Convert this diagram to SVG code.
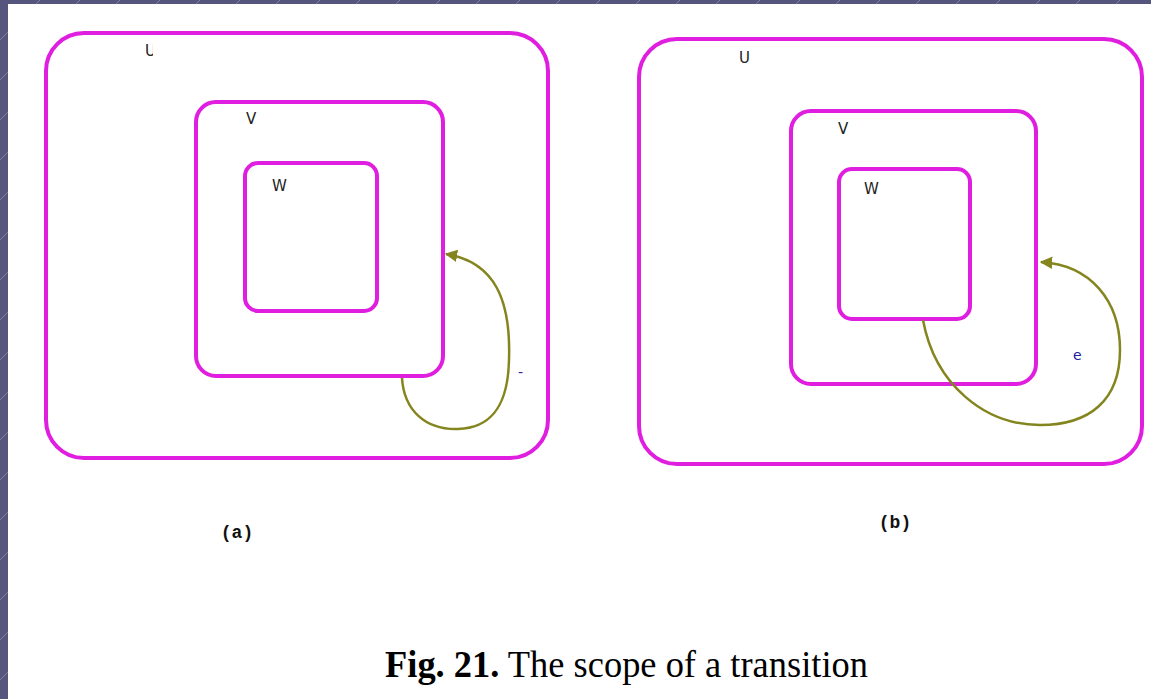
<svg xmlns="http://www.w3.org/2000/svg" width="1151" height="699" viewBox="0 0 1151 699">
  <defs>
    <pattern id="stripes" x="0" y="0" width="40" height="40" patternUnits="userSpaceOnUse">
      <path d="M-2,42 L42,-2" stroke="#8a8ab0" stroke-width="0.8" fill="none"/>
    </pattern>
    <marker id="arrow" viewBox="0 0 10 10" refX="9" refY="5" markerWidth="5" markerHeight="5" orient="auto" markerUnits="strokeWidth">
      <path d="M0,0 L10,5 L0,10 Z" fill="#85851f"/>
    </marker>
    <clipPath id="clipU">
      <rect x="140" y="35" width="13" height="25"/>
    </clipPath>
  </defs>
  <style>
    .state { fill: none; stroke: #e01ee0; stroke-width: 4; }
    .edge { fill: none; stroke: #85851f; stroke-width: 2.5; marker-end: url(#arrow); }
    .lbl { font-family: "DejaVu Sans", "Liberation Sans", sans-serif; font-size: 15px; fill: #222; }
    .ev { font-family: "DejaVu Sans", "Liberation Sans", sans-serif; font-size: 14px; fill: #22229a; }
    .sub { font-family: "Liberation Mono", "DejaVu Sans Mono", monospace; font-size: 18px; font-weight: bold; fill: #111; }
    .cap { font-family: "Liberation Serif", "DejaVu Serif", serif; font-size: 37px; fill: #000; }
  </style>

  <!-- slide background -->
  <rect x="0" y="0" width="1151" height="699" fill="#55557d"/>
  <rect x="0" y="0" width="1151" height="699" fill="url(#stripes)"/>
  <rect x="8" y="4" width="1143" height="695" fill="#ffffff"/>

  <!-- panel (a) -->
  <g id="a-U">
    <rect class="state" x="46" y="33" width="502" height="425" rx="38" ry="38"/>
    <text class="lbl" x="145" y="56" clip-path="url(#clipU)">U</text>
  </g>
  <g id="a-V">
    <rect class="state" x="196" y="102" width="247" height="274" rx="20" ry="20"/>
    <text class="lbl" x="246" y="124">V</text>
  </g>
  <g id="a-W">
    <rect class="state" x="245" y="163" width="132" height="148" rx="13" ry="13"/>
    <text class="lbl" x="272" y="191">W</text>
  </g>
  <text class="ev" x="518" y="377">-</text>

  <!-- panel (b) -->
  <g id="b-U">
    <rect class="state" x="639" y="39" width="503" height="425" rx="38" ry="38"/>
    <text class="lbl" x="739" y="63">U</text>
  </g>
  <g id="b-V">
    <rect class="state" x="791" y="111" width="245" height="273" rx="20" ry="20"/>
    <text class="lbl" x="838" y="134">V</text>
  </g>
  <g id="b-W">
    <rect class="state" x="839" y="169" width="131" height="150" rx="13" ry="13"/>
    <text class="lbl" x="864" y="194">W</text>
  </g>
  <text class="ev" x="1073" y="360">e</text>

  <!-- transitions -->
  <g id="connectors">
    <path class="edge" d="M402,378 C404,410 425,430 458,429 C492,428 508,405 509,360 C511,300 495,262 446,254"/>
    <path class="edge" d="M923,320 C935,385 985,425 1040,425 C1090,425 1120,400 1120,350 C1120,300 1090,265 1041,262"/>
  </g>

  <!-- sub-figure labels -->
  <text class="sub" x="237" y="538" text-anchor="middle">(a)</text>
  <text class="sub" x="895" y="528" text-anchor="middle">(b)</text>

  <!-- caption -->
  <text class="cap" x="385" y="677" textLength="483" lengthAdjust="spacingAndGlyphs"><tspan font-weight="bold">Fig. 21.</tspan> The scope of a transition</text>
</svg>
